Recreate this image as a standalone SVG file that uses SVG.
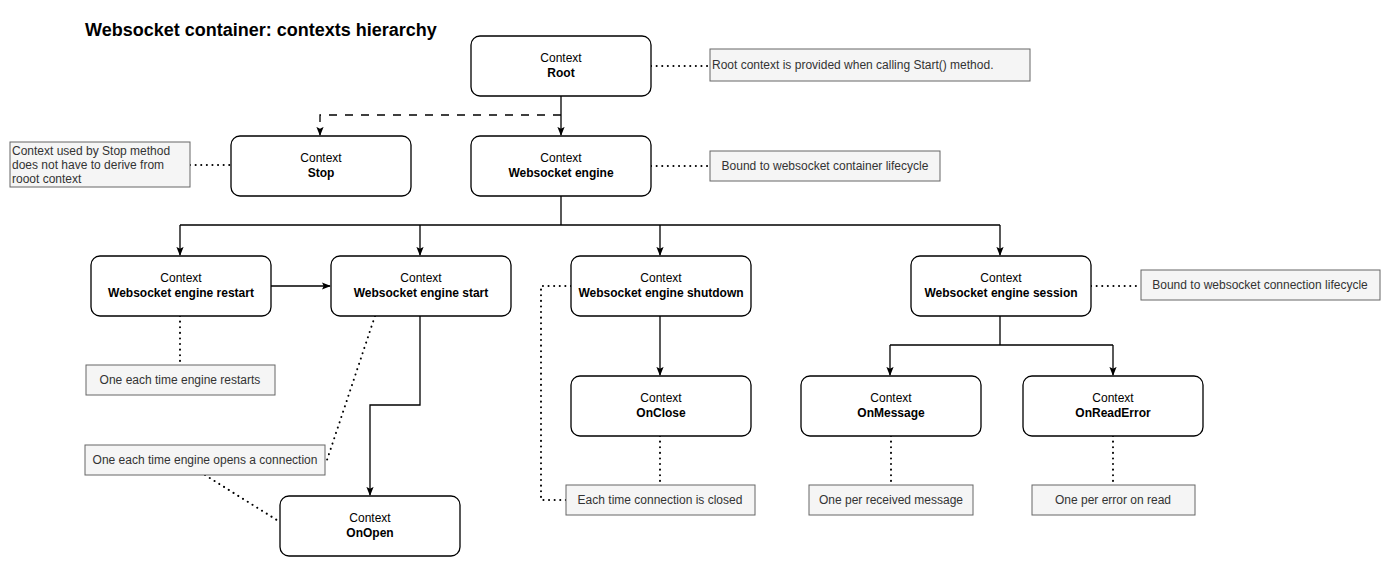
<svg xmlns="http://www.w3.org/2000/svg" width="1391" height="566" viewBox="0 0 1391 566">
<style>
.node rect{fill:#fff;stroke:#000;stroke-width:1.3}
.note rect{fill:#f5f5f5;stroke:#666;stroke-width:1}
text{font-family:"Liberation Sans",Arial,sans-serif;font-size:12px}
.t1{fill:#000;text-anchor:middle}
.t2{fill:#000;text-anchor:middle;font-weight:bold}
.nt{fill:#333}
.c{text-anchor:middle}
.edge{fill:none;stroke:#000;stroke-width:1.3}
.dash{fill:none;stroke:#000;stroke-width:1.3;stroke-dasharray:8 8}
.dot{fill:none;stroke:#000;stroke-width:2;stroke-dasharray:0.1 5.5;stroke-linecap:round}
</style>
<defs>
<marker id="ah" viewBox="0 0 10 10" refX="9" refY="5" markerWidth="9" markerHeight="9" markerUnits="userSpaceOnUse" orient="auto">
<path d="M0,1 L10,5 L0,9 L2,5 Z" fill="#000"/>
</marker>
</defs>
<rect width="1391" height="566" fill="#fff"/>
<text x="85" y="36" style="font-size:18px;font-weight:bold" fill="#000">Websocket container: contexts hierarchy</text>

<g id="connectors">
<path class="edge" d="M561,96 V135" marker-end="url(#ah)"/>
<path class="dash" d="M561,115 H320 V135" marker-end="url(#ah)"/>
<path class="edge" d="M561,196 V225 M180,225 H1000"/>
<path class="edge" d="M180,225 V255" marker-end="url(#ah)"/>
<path class="edge" d="M420,225 V255" marker-end="url(#ah)"/>
<path class="edge" d="M660,225 V255" marker-end="url(#ah)"/>
<path class="edge" d="M1000,225 V255" marker-end="url(#ah)"/>
<path class="edge" d="M271,286 H330" marker-end="url(#ah)"/>
<path class="edge" d="M420,316 V405 H370 V495" marker-end="url(#ah)"/>
<path class="edge" d="M660,316 V375" marker-end="url(#ah)"/>
<path class="edge" d="M1000,316 V345 M890,345 H1113"/>
<path class="edge" d="M890,345 V375" marker-end="url(#ah)"/>
<path class="edge" d="M1113,345 V375" marker-end="url(#ah)"/>
<path class="dot" d="M651,66 H710"/>
<path class="dot" d="M190,165 H231"/>
<path class="dot" d="M651,166 H710"/>
<path class="dot" d="M1091,286 H1141"/>
<path class="dot" d="M180,316 V365"/>
<path class="dot" d="M375,316 L327,460"/>
<path class="dot" d="M205,475 L280,522"/>
<path class="dot" d="M571,286 H541 V500 H566"/>
<path class="dot" d="M660,436 V485"/>
<path class="dot" d="M891,436 V485"/>
<path class="dot" d="M1113,436 V485"/>
</g>

<g id="root" class="node"><rect x="471" y="36" width="180" height="60" rx="9"/><text class="t1" x="561" y="62">Context</text><text class="t2" x="561" y="77">Root</text></g>
<g id="stop" class="node"><rect x="231" y="136" width="180" height="60" rx="9"/><text class="t1" x="321" y="162">Context</text><text class="t2" x="321" y="177">Stop</text></g>
<g id="engine" class="node"><rect x="471" y="136" width="180" height="60" rx="9"/><text class="t1" x="561" y="162">Context</text><text class="t2" x="561" y="177">Websocket engine</text></g>
<g id="restart" class="node"><rect x="91" y="256" width="180" height="60" rx="9"/><text class="t1" x="181" y="282">Context</text><text class="t2" x="181" y="297">Websocket engine restart</text></g>
<g id="start" class="node"><rect x="331" y="256" width="180" height="60" rx="9"/><text class="t1" x="421" y="282">Context</text><text class="t2" x="421" y="297">Websocket engine start</text></g>
<g id="shutdown" class="node"><rect x="571" y="256" width="180" height="60" rx="9"/><text class="t1" x="661" y="282">Context</text><text class="t2" x="661" y="297">Websocket engine shutdown</text></g>
<g id="session" class="node"><rect x="911" y="256" width="180" height="60" rx="9"/><text class="t1" x="1001" y="282">Context</text><text class="t2" x="1001" y="297">Websocket engine session</text></g>
<g id="onclose" class="node"><rect x="571" y="376" width="180" height="60" rx="9"/><text class="t1" x="661" y="402">Context</text><text class="t2" x="661" y="417">OnClose</text></g>
<g id="onmessage" class="node"><rect x="801" y="376" width="180" height="60" rx="9"/><text class="t1" x="891" y="402">Context</text><text class="t2" x="891" y="417">OnMessage</text></g>
<g id="onreaderror" class="node"><rect x="1023" y="376" width="180" height="60" rx="9"/><text class="t1" x="1113" y="402">Context</text><text class="t2" x="1113" y="417">OnReadError</text></g>
<g id="onopen" class="node"><rect x="280" y="496" width="180" height="60" rx="9"/><text class="t1" x="370" y="522">Context</text><text class="t2" x="370" y="537">OnOpen</text></g>

<g id="note-root" class="note"><rect x="710" y="49" width="320" height="32"/><text class="nt" x="712" y="69">Root context is provided when calling Start() method.</text></g>
<g id="note-engine" class="note"><rect x="710" y="151" width="230" height="30"/><text class="nt c" x="825" y="170">Bound to websocket container lifecycle</text></g>
<g id="note-stop" class="note"><rect x="10" y="142" width="180" height="45"/><text class="nt" x="12" y="155">Context used by Stop method</text><text class="nt" x="12" y="169">does not have to derive from</text><text class="nt" x="12" y="183">rooot context</text></g>
<g id="note-session" class="note"><rect x="1141" y="270" width="239" height="30"/><text class="nt c" x="1260" y="289">Bound to websocket connection lifecycle</text></g>
<g id="note-restart" class="note"><rect x="86" y="365" width="189" height="30"/><text class="nt c" x="180" y="384">One each time engine restarts</text></g>
<g id="note-start" class="note"><rect x="85" y="445" width="240" height="30"/><text class="nt c" x="205" y="464">One each time engine opens a connection</text></g>
<g id="note-onclose" class="note"><rect x="566" y="485" width="189" height="30"/><text class="nt c" x="660" y="504">Each time connection is closed</text></g>
<g id="note-onmessage" class="note"><rect x="809" y="485" width="164" height="30"/><text class="nt c" x="891" y="504">One per received message</text></g>
<g id="note-onreaderror" class="note"><rect x="1032" y="485" width="163" height="30"/><text class="nt c" x="1113" y="504">One per error on read</text></g>
</svg>
